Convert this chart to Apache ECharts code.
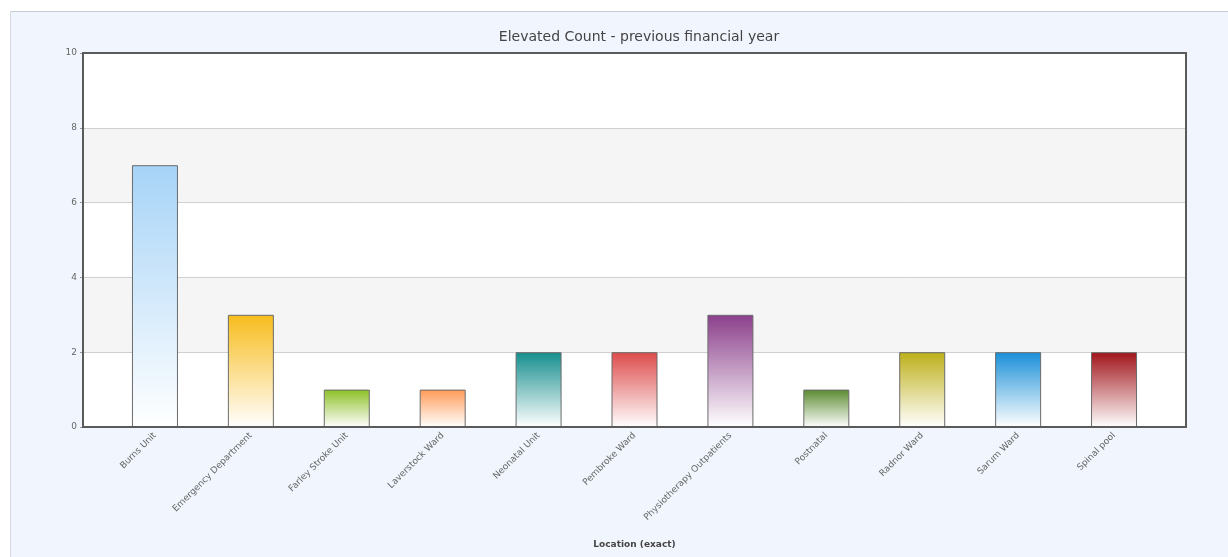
<!DOCTYPE html>
<html>
<head>
<meta charset="utf-8">
<script src="https://cdn.jsdelivr.net/npm/echarts@6/dist/echarts.min.js"></script>
<style>
  html, body { margin: 0; padding: 0; background: #ffffff; }
  #panel {
    position: absolute; left: 10px; top: 11px; width: 1218px; height: 546px;
    background: #f1f6fe; border-top: 1px solid #c6ccd6; border-left: 1px solid #d6dbe3;
    box-sizing: border-box;
  }
  #chart { position: absolute; left: 0; top: 0; width: 1228px; height: 557px; }
</style>
</head>
<body>
<div id="panel"></div>
<div id="chart"></div>
<script>
// Locations and their elevated counts
const categories = [
  'Burns Unit', 'Emergency Department', 'Farley Stroke Unit', 'Laverstock Ward',
  'Neonatal Unit', 'Pembroke Ward', 'Physiotherapy Outpatients', 'Postnatal',
  'Radnor Ward', 'Sarum Ward', 'Spinal pool'
];
const counts = [7, 3, 1, 1, 2, 2, 3, 1, 2, 2, 2];
const barColors = [
  '#a6d3f7', '#f7bc1c', '#8cc026', '#ff9a57', '#168e8e', '#dd4b4b',
  '#8b3f8b', '#5a8a30', '#bdb01a', '#1a8fd8', '#a0141a'
];
const yTicks = [0, 2, 4, 6, 8, 10];

const chart = echarts.init(document.getElementById('chart'), null, { renderer: 'canvas' });

const font = 'DejaVu Sans, Verdana, sans-serif';
const plotBox = { left: 83, right: 42, top: 53, bottom: 130 };

const option = {
  backgroundColor: 'transparent',
  animation: false,
  title: {
    text: 'Elevated Count - previous financial year',
    left: 634, top: 25, textAlign: 'center',
    textStyle: { fontFamily: font, fontSize: 14, fontWeight: 'normal', color: '#444' }
  },
  grid: [
    // value scale with alternating bands
    Object.assign({ show: true, backgroundColor: '#ffffff', borderWidth: 0 }, plotBox),
    // category lane for the bars
    { left: 107, right: 66, top: 53, bottom: 130 },
    // dark frame drawn above the bands
    Object.assign({ show: true, backgroundColor: 'transparent', borderColor: '#5a5a5a', borderWidth: 2, z: 5 }, plotBox)
  ],
  xAxis: [
    { gridIndex: 0, type: 'value', min: 0, max: 1, show: false },
    {
      gridIndex: 1, type: 'category', data: categories,
      axisLine: { show: false }, axisTick: { show: false },
      axisLabel: { rotate: 45, interval: 0, margin: 7, fontFamily: font, fontSize: 9, color: '#666' },
      name: 'Location (exact)', nameLocation: 'middle', nameGap: 113,
      nameTextStyle: { fontFamily: font, fontSize: 9, fontWeight: 'bold', color: '#444' }
    },
    { gridIndex: 2, type: 'value', min: 0, max: 1, show: false }
  ],
  yAxis: [
    {
      gridIndex: 0, type: 'value', min: 0, max: 10, interval: 2,
      axisLine: { show: false },
      axisTick: { show: true, length: 3, lineStyle: { color: '#999' } },
      axisLabel: { fontFamily: font, fontSize: 9, color: '#666', margin: 6,
        formatter: v => yTicks.includes(v) ? String(v) : '' },
      splitLine: { show: true, lineStyle: { color: '#cfcfcf', width: 1 } },
      splitArea: { show: true, areaStyle: { color: ['#ffffff', '#f5f5f5'] } }
    },
    { gridIndex: 1, type: 'value', min: 0, max: 10, interval: 2, show: false },
    { gridIndex: 2, type: 'value', min: 0, max: 10, interval: 2, show: false }
  ],
  series: [{
    type: 'bar',
    xAxisIndex: 1, yAxisIndex: 1,
    barWidth: 46,
    data: counts.map((v, i) => ({
      value: v,
      itemStyle: {
        color: new echarts.graphic.LinearGradient(0, 0, 0, 1, [
          { offset: 0, color: barColors[i] },
          { offset: 1, color: '#ffffff' }
        ]),
        borderColor: '#6b6b6b',
        borderWidth: 1
      }
    }))
  }]
};

chart.setOption(option);
</script>
</body>
</html>
